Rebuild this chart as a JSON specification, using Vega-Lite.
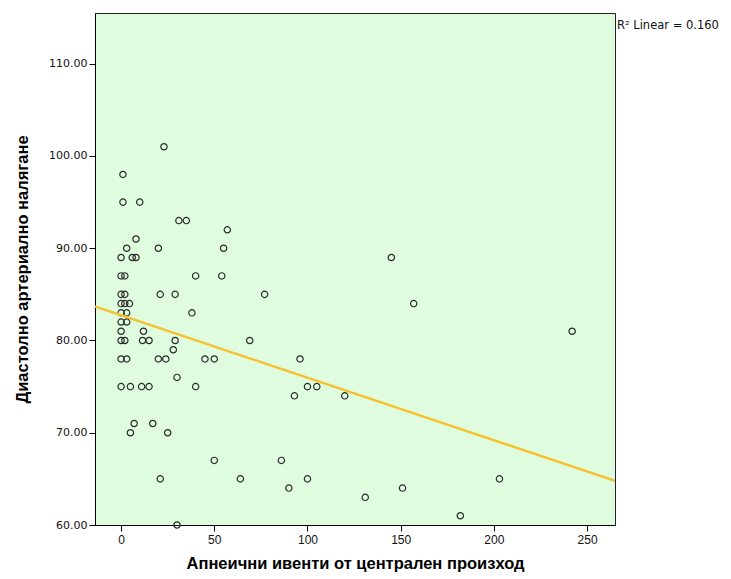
{
  "$schema": "https://vega.github.io/schema/vega-lite/v6.json",
  "width": 520,
  "height": 512,
  "autosize": {"type": "none"},
  "padding": {"left": 95, "top": 13, "right": 116, "bottom": 54},
  "background": "white",
  "config": {
    "view": {"fill": "#dffcdf", "stroke": "#222", "strokeWidth": 1}
  },
  "data": {
    "values": [
      {"x": 23, "y": 101}, {"x": 1, "y": 98}, {"x": 1, "y": 95}, {"x": 10, "y": 95},
      {"x": 31, "y": 93}, {"x": 35, "y": 93}, {"x": 57, "y": 92}, {"x": 8, "y": 91},
      {"x": 3, "y": 90}, {"x": 20, "y": 90}, {"x": 55, "y": 90},
      {"x": 0, "y": 89}, {"x": 6, "y": 89}, {"x": 8, "y": 89}, {"x": 145, "y": 89},
      {"x": 0, "y": 87}, {"x": 2, "y": 87}, {"x": 40, "y": 87}, {"x": 54, "y": 87},
      {"x": 0, "y": 85}, {"x": 2, "y": 85}, {"x": 21, "y": 85}, {"x": 29, "y": 85}, {"x": 77, "y": 85},
      {"x": 0, "y": 84}, {"x": 2, "y": 84}, {"x": 4.5, "y": 84}, {"x": 157, "y": 84},
      {"x": 0, "y": 83}, {"x": 3, "y": 83}, {"x": 38, "y": 83},
      {"x": 0, "y": 82}, {"x": 3, "y": 82},
      {"x": 0, "y": 81}, {"x": 12, "y": 81}, {"x": 242, "y": 81},
      {"x": 0, "y": 80}, {"x": 2, "y": 80}, {"x": 11.5, "y": 80}, {"x": 15, "y": 80}, {"x": 29, "y": 80}, {"x": 69, "y": 80},
      {"x": 28, "y": 79},
      {"x": 0, "y": 78}, {"x": 3, "y": 78}, {"x": 20, "y": 78}, {"x": 24, "y": 78}, {"x": 45, "y": 78}, {"x": 50, "y": 78}, {"x": 96, "y": 78},
      {"x": 30, "y": 76},
      {"x": 0, "y": 75}, {"x": 5, "y": 75}, {"x": 11, "y": 75}, {"x": 15, "y": 75}, {"x": 40, "y": 75}, {"x": 100, "y": 75}, {"x": 105, "y": 75},
      {"x": 93, "y": 74}, {"x": 120, "y": 74},
      {"x": 7, "y": 71}, {"x": 17, "y": 71},
      {"x": 5, "y": 70}, {"x": 25, "y": 70},
      {"x": 50, "y": 67}, {"x": 86, "y": 67},
      {"x": 21, "y": 65}, {"x": 64, "y": 65}, {"x": 100, "y": 65}, {"x": 203, "y": 65},
      {"x": 90, "y": 64}, {"x": 151, "y": 64},
      {"x": 131, "y": 63}, {"x": 182, "y": 61}, {"x": 30, "y": 60}
    ]
  },
  "layer": [
    {
      "mark": {"type": "point", "shape": "circle", "filled": false, "stroke": "#2b2b2b", "strokeWidth": 1.2, "size": 40, "opacity": 1},
      "encoding": {
        "x": {
          "field": "x", "type": "quantitative",
          "scale": {"domain": [-14, 265], "nice": false, "zero": false},
          "axis": {
            "values": [0, 50, 100, 150, 200, 250],
            "title": "Апнеични ивенти от централен произход",
            "grid": false, "domainColor": "#000", "tickColor": "#000", "tickSize": 6,
            "labelFont": "Liberation Sans", "labelFontSize": 12, "labelColor": "#111", "labelPadding": 3,
            "titleFont": "Liberation Sans", "titleFontSize": 16.5, "titleFontWeight": "bold", "titleColor": "#000", "titlePadding": 10
          }
        },
        "y": {
          "field": "y", "type": "quantitative",
          "scale": {"domain": [60, 115.5], "nice": false, "zero": false},
          "axis": {
            "values": [60, 70, 80, 90, 100, 110],
            "format": ".2f",
            "title": "Диастолно артериално налягане",
            "grid": false, "domainColor": "#000", "tickColor": "#000", "tickSize": 6,
            "labelFont": "DejaVu Sans", "labelFontSize": 11, "labelColor": "#111", "labelPadding": 2,
            "titleFont": "Liberation Sans", "titleFontSize": 16.5, "titleFontWeight": "bold", "titleColor": "#000", "titlePadding": 18
          }
        }
      }
    },
    {
      "transform": [{"regression": "y", "on": "x", "extent": [-14, 265]}],
      "mark": {"type": "line", "color": "#f5c232", "strokeWidth": 2.5, "clip": true},
      "encoding": {
        "x": {"field": "x", "type": "quantitative"},
        "y": {"field": "y", "type": "quantitative"}
      }
    },
    {
      "data": {"values": [{"x": 265, "y": 114.1, "label": "R² Linear = 0.160"}]},
      "mark": {"type": "text", "align": "left", "baseline": "middle", "dx": 2, "font": "DejaVu Sans", "fontSize": 11.5, "color": "#111"},
      "encoding": {
        "x": {"field": "x", "type": "quantitative"},
        "y": {"field": "y", "type": "quantitative"},
        "text": {"field": "label"}
      }
    }
  ]
}
